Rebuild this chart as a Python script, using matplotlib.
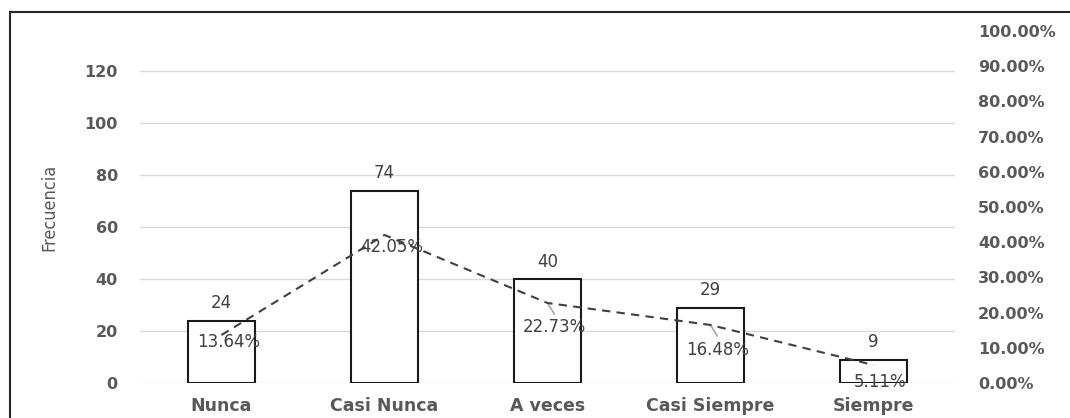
import matplotlib
matplotlib.use("Agg")
import matplotlib.pyplot as plt
from matplotlib.lines import Line2D
import numpy as np

# Datos
categorias = ["Nunca", "Casi Nunca", "A veces", "Casi Siempre", "Siempre"]
frecuencia = [24, 74, 40, 29, 9]
porcentaje = [0.1364, 0.4205, 0.2273, 0.1648, 0.0511]
etiquetasPct = ["13.64%", "42.05%", "22.73%", "16.48%", "5.11%"]
ticksIzq = [0, 20, 40, 60, 80, 100, 120]
ticksDer = [0.0, 0.1, 0.2, 0.3, 0.4, 0.5, 0.6, 0.7, 0.8, 0.9, 1.0]

gris = "#595959"
grisOscuro = "#404040"

fig = plt.figure(figsize=(10.7, 4.18), dpi=100)
ax = fig.add_axes([140/1070, 35/418, 815/1070, 352/418])
ax2 = ax.twinx()

x = np.arange(len(categorias))
ax.bar(x, frecuencia, width=0.41, facecolor="white", edgecolor="#1a1a1a", linewidth=1.5, zorder=3)
ax.set_xlim(-0.5, 4.5)
ax.set_ylim(0, 135.4)
ax.set_yticks(ticksIzq)
ax.yaxis.grid(True, color="#d9d9d9", linewidth=1, zorder=0)
ax.set_axisbelow(True)
ax.set_xticks(x)
ax.set_xticklabels(categorias, fontsize=12.5, fontweight="bold", color=gris)
ax.tick_params(axis="x", length=0, pad=10)
ax.tick_params(axis="y", length=0, pad=16, labelsize=11.5, labelcolor=gris)
for t in ax.get_yticklabels():
    t.set_fontweight("bold")
for s in ax.spines.values():
    s.set_visible(False)
ax.set_ylabel("Frecuencia", fontsize=13, color=gris, fontstretch="condensed",
              family=["Liberation Sans Narrow", "DejaVu Sans"])
ax.yaxis.set_label_coords(-0.1006, 0.5)

for xi, v in zip(x, frecuencia):
    ax.annotate(str(v), (xi, v), xytext=(0, 6), textcoords="offset points",
                ha="center", va="bottom", fontsize=12, color=grisOscuro, zorder=5)

# Linea de porcentajes
ax2.plot(x, porcentaje, linestyle=(0, (4, 3)), color=grisOscuro, linewidth=1.5, zorder=4)
ax2.set_ylim(0, 1.0)
ax2.set_yticks(ticksDer)
ax2.set_yticklabels(["%.2f%%" % (t * 100) for t in ticksDer])
ax2.tick_params(axis="y", length=0, pad=16.5, labelsize=11.5, labelcolor=gris)
for t in ax2.get_yticklabels():
    t.set_fontweight("bold")
for s in ax2.spines.values():
    s.set_visible(False)

desplazamientos = [-5, -9, -17, -18, -12]
for xi, p, txt, d in zip(x, porcentaje, etiquetasPct, desplazamientos):
    ax2.annotate(txt, (xi, p), xytext=(5, d), textcoords="offset points",
                 ha="center", va="center", fontsize=12, color=grisOscuro, zorder=6)
for xi in [2, 3]:
    ax2.annotate("", (x[xi], porcentaje[xi]), xytext=(5, -8),
                 textcoords="offset points",
                 arrowprops=dict(arrowstyle="-", color="#a6a6a6", lw=1.2, shrinkA=0, shrinkB=0))

# Marco del grafico
fig.add_artist(Line2D([10/1070, 10/1070], [0, 1 - 12/418], color="#262626", lw=1.5))
fig.add_artist(Line2D([10/1070, 1], [1 - 12/418, 1 - 12/418], color="#262626", lw=1.5))

fig.savefig("out.png", dpi=100)
